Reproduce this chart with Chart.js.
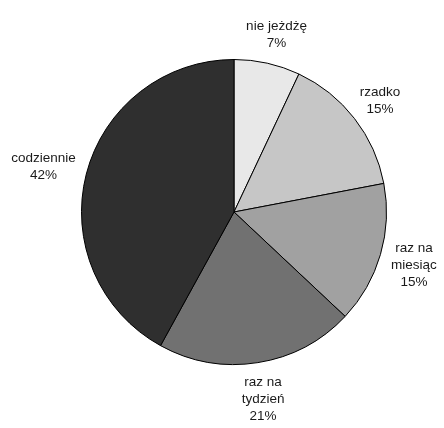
<!DOCTYPE html>
<html>
<head>
<meta charset="utf-8">
<script src="https://cdn.jsdelivr.net/npm/chart.js@4"></script>
<style>
  html, body { margin: 0; padding: 0; background: #fff; }
  #wrap { width: 444px; height: 428px; }
</style>
</head>
<body>
<div id="wrap"><canvas id="pie"></canvas></div>
<script>
const labels = [["nie jeżdżę"], ["rzadko"], ["raz na", "miesiąc"], ["raz na", "tydzień"], ["codziennie"]];
const shares = [7, 15, 15, 21, 42];
const sliceColors = ['#e8e8e8', '#c6c6c6', '#a1a1a1', '#717171', '#2f2f2f'];

const fontSize = 13.5;
const lineH = 17;

// draws the label + percent outside each slice
const outsideLabels = {
  id: 'outsideLabels',
  afterDatasetsDraw(chart) {
    const ctx = chart.ctx;
    const arcs = chart.getDatasetMeta(0).data;
    ctx.save();
    ctx.font = fontSize + 'px "Liberation Sans", Arial, sans-serif';
    ctx.fillStyle = '#1a1a1a';
    ctx.textAlign = 'center';
    ctx.textBaseline = 'middle';
    arcs.forEach((arc, i) => {
      const p = arc.getProps(['x', 'y', 'startAngle', 'endAngle', 'outerRadius'], true);
      const mid = (p.startAngle + p.endAngle) / 2;
      const lines = labels[i].concat([shares[i] + '%']);
      const w = Math.max(...lines.map(t => ctx.measureText(t).width));
      const h = lines.length * lineH;
      const c = Math.cos(mid), s = Math.sin(mid);
      const r = p.outerRadius + 12;
      const cx = p.x + r * c + c * w / 2;
      const cy = p.y + r * s + s * h / 2;
      lines.forEach((t, j) => {
        ctx.fillText(t, cx, cy - h / 2 + lineH * (j + 0.5));
      });
    });
    ctx.restore();
  }
};

new Chart(document.getElementById('pie'), {
  type: 'pie',
  data: {
    labels: labels.map(l => l.join(' ')),
    datasets: [{
      data: shares,
      backgroundColor: sliceColors,
      borderColor: '#000',
      borderWidth: 1
    }]
  },
  options: {
    responsive: true,
    maintainAspectRatio: false,
    animation: false,
    layout: { padding: { left: 81, right: 57, top: 59, bottom: 63 } },
    plugins: {
      legend: { display: false },
      tooltip: { enabled: false }
    }
  },
  plugins: [outsideLabels]
});
</script>
</body>
</html>
